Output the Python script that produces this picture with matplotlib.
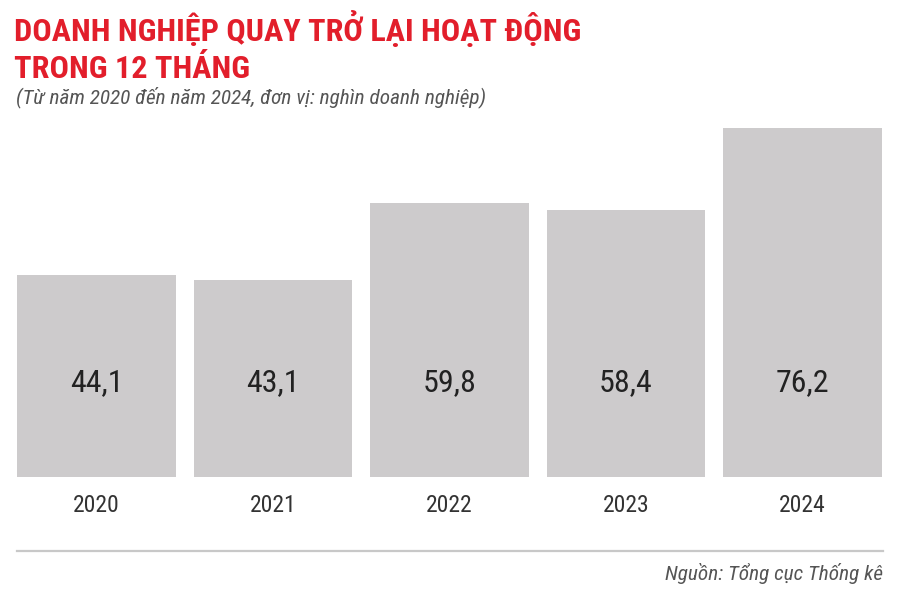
import matplotlib
matplotlib.use("Agg")
import matplotlib.pyplot as plt
from matplotlib import font_manager as fm
from matplotlib.lines import Line2D
import matplotlib.transforms as mtransforms

# data
years = ["2020", "2021", "2022", "2023", "2024"]
values = [44.1, 43.1, 59.8, 58.4, 76.2]
value_labels = ["44,1", "43,1", "59,8", "58,4", "76,2"]

title_lines = ["DOANH NGHIỆP QUAY TRỞ LẠI HOẠT ĐỘNG", "TRONG 12 THÁNG"]
subtitle = "(Từ năm 2020 đến năm 2024, đơn vị: nghìn doanh nghiệp)"
source = "Nguồn: Tổng cục Thống kê"


def pick_family(prefs, weight=400, style="normal"):
    # first family from prefs that has the wanted weight/style on disk
    have = set((f.name, f.weight, f.style) for f in fm.fontManager.ttflist)
    for name in prefs:
        if (name, weight, style) in have:
            return name
    return "DejaVu Sans"


cond = ["Roboto Condensed", "Barlow Semi Condensed", "Sofia Sans Condensed", "Roboto"]
fam_bold = pick_family(cond, 700)
fam_reg = pick_family(cond, 400)
fam_ital = pick_family(cond, 400, "italic")

W, H = 900, 592
fig = plt.figure(figsize=(W / 100, H / 100), dpi=100)
fig.patch.set_facecolor("white")

# axes placed so bars sit where they are in the picture
ax = fig.add_axes([8.25 / W, (H - 477) / H, 882.5 / W, 349 / H])
x = range(len(years))
ax.bar(x, values, width=0.9, color="#cdcbcc")
ax.set_xlim(-0.5, len(years) - 0.5)
ax.set_ylim(0, max(values))
for s in ax.spines.values():
    s.set_visible(False)
ax.set_yticks([])
ax.set_xticks(list(x))
ax.set_xticklabels(years, fontfamily=fam_reg, fontsize=17, color="#333333")
ax.tick_params(axis="x", length=0, pad=12)

trans = mtransforms.blended_transform_factory(ax.transData, ax.transAxes)
for i, lab in enumerate(value_labels):
    ax.text(i, 0.269, lab, transform=trans, ha="center", va="center",
            fontfamily=fam_reg, fontsize=23, color="#222222")

# titles
red = "#e21e2b"
fig.text(14 / W, 1 - 41 / H, title_lines[0], ha="left", va="baseline",
         fontfamily=fam_bold, fontweight="bold", fontsize=23.1, color=red)
fig.text(14 / W, 1 - 78 / H, title_lines[1], ha="left", va="baseline",
         fontfamily=fam_bold, fontweight="bold", fontsize=23.1, color=red)
fig.text(16 / W, 1 - 103 / H, subtitle, ha="left", va="baseline",
         fontfamily=fam_ital, fontstyle="italic", fontsize=15.3, color="#555555")

# bottom rule + source
fig.add_artist(Line2D([17 / W, 883 / W], [1 - 551 / H, 1 - 551 / H],
                      transform=fig.transFigure, color="#c8c8c8", lw=1.6))
fig.text(883 / W, 1 - 580 / H, source, ha="right", va="baseline",
         fontfamily=fam_ital, fontstyle="italic", fontsize=15.3, color="#555555")

fig.savefig("out.png", dpi=100, facecolor="white")
